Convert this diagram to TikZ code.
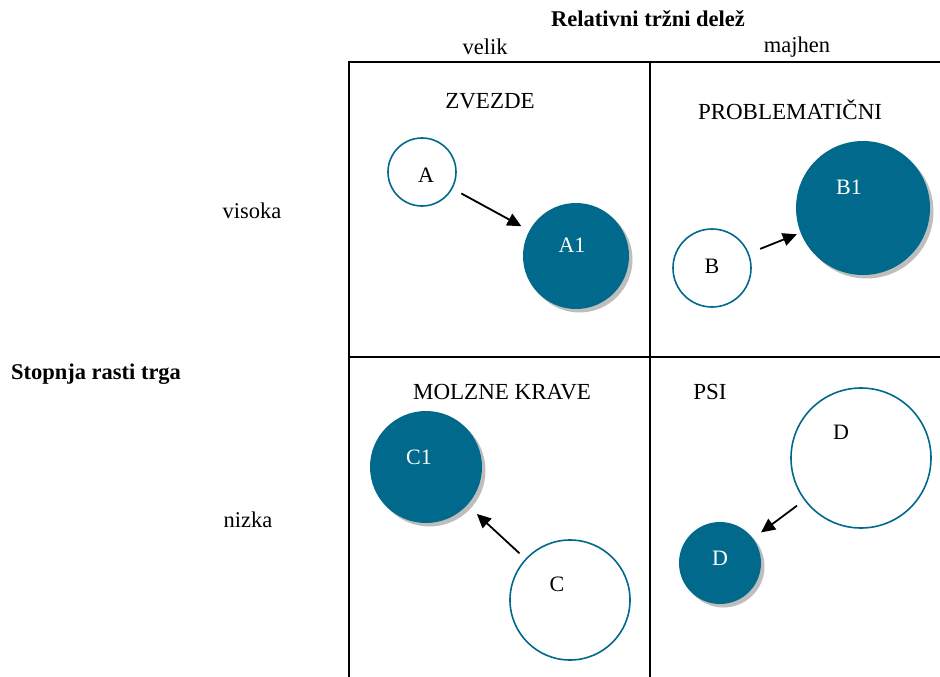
\documentclass[tikz,border=0pt]{standalone}
\usepackage{fontspec}
\setmainfont{Liberation Serif}
\usetikzlibrary{arrows.meta,shadows}
\definecolor{teal}{RGB}{0,105,140}
\definecolor{shade}{RGB}{190,190,190}
\tikzset{
  grid/.style={line width=2pt},
  axis/.style={font=\fontsize{22.5}{26}\selectfont\bfseries},
  lbl/.style={font=\fontsize{22.5}{26}\selectfont},
  quad/.style={font=\fontsize{23}{26}\selectfont},
  before/.style={circle,draw=teal,line width=1.6pt,fill=white,inner sep=0pt},
  after/.style={circle,fill=teal,inner sep=0pt,
    drop shadow={shadow xshift=3.5pt,shadow yshift=-3.5pt,fill=shade,opacity=1}},
  intext/.style={font=\fontsize{22}{26}\selectfont},
  outtext/.style={font=\fontsize{22}{26}\selectfont,text=white},
  move/.style={line width=1.8pt,-{Triangle[length=14pt,width=13pt]},shorten <=10pt,shorten >=9pt}
}
\begin{document}
\begin{tikzpicture}[x=1pt,y=-1pt]
\useasboundingbox (0,0) rectangle (940,677);

% matrix frame
\draw[grid] (940,62) -- (349,62) -- (349,677);
\draw[grid] (650,62) -- (650,677);
\draw[grid] (349,357) -- (940,357);

% axis titles and scale labels
\node[axis] (share) at (648,19) {Relativni tržni delež};
\node[lbl] (big) at (485,47) {velik};
\node[lbl] (small) at (797,47) {majhen};
\node[axis] (growth) at (96,374) {Stopnja rasti trga};
\node[lbl] (high) at (252,211) {visoka};
\node[lbl] (low) at (248,520) {nizka};

% quadrant names
\node[quad] (stars) at (490,101) {ZVEZDE};
\node[quad] (question) at (790,110) {PROBLEMATIČNI};
\node[quad] (cows) at (502,392) {MOLZNE KRAVE};
\node[quad] (dogs) at (710,392) {PSI};

% business units: current and future positions
\node[before,minimum size=68pt] (A) at (422,172) {};
\node[intext] (Atxt) at (426,175) {A};
\node[after,minimum size=106pt] (A1) at (576,256) {};
\node[outtext] (A1txt) at (572,245) {A1};

\node[before,minimum size=78pt] (B) at (712,268) {};
\node[intext] (Btxt) at (712,266) {B};
\node[after,minimum size=134pt] (B1) at (863,208) {};
\node[outtext] (B1txt) at (849,187) {B1};

\node[after,minimum size=112pt] (C1) at (426,467) {};
\node[outtext] (C1txt) at (419,457) {C1};
\node[before,minimum size=120pt] (C) at (570,600) {};
\node[intext] (Ctxt) at (557,584) {C};

\node[before,minimum size=140pt] (D) at (861,458) {};
\node[intext] (Dtxt) at (841,432) {D};
\node[after,minimum size=82pt] (D1) at (720,563) {};
\node[outtext] (D1txt) at (720,558) {D};

% movements
\draw[move] (A) -- (A1);
\draw[move,shorten <=12pt,shorten >=4pt] (B) -- (B1);
\draw[move,shorten <=8pt,shorten >=13pt] (C) -- (C1);
\draw[move,shorten <=9pt,shorten >=10pt] (D) -- (D1);
\end{tikzpicture}
\end{document}
